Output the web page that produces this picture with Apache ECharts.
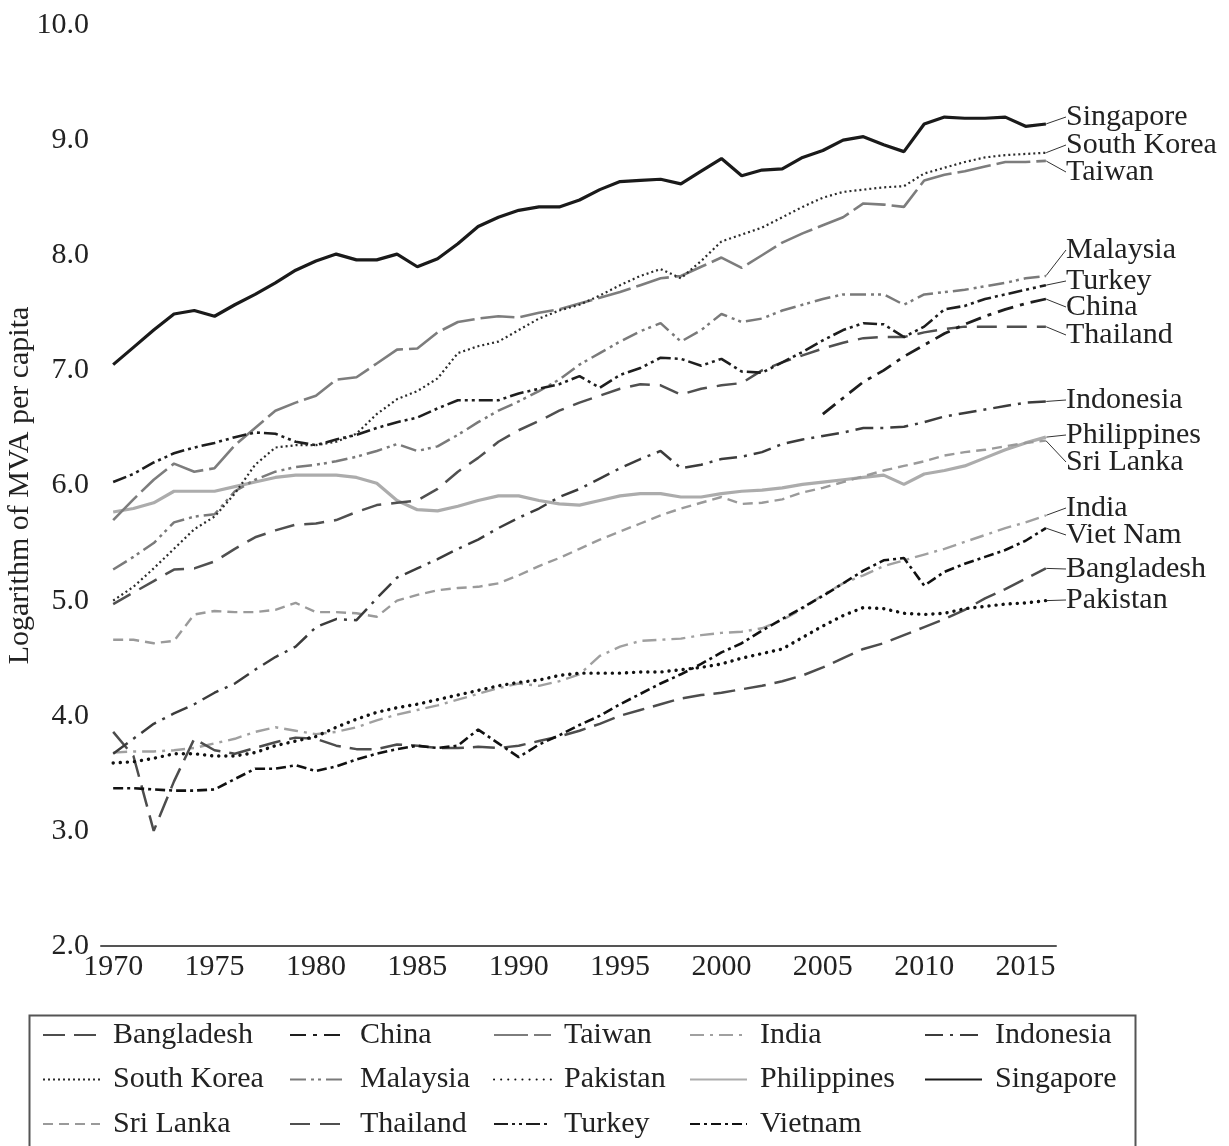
<!DOCTYPE html>
<html>
<head>
<meta charset="utf-8">
<script src="https://cdn.jsdelivr.net/npm/echarts@6/dist/echarts.min.js"></script>
<style>
  html, body { margin: 0; background: #fff; }
  #container { width: 1229px; height: 1146px; }
</style>
</head>
<body>
<div id="container"></div>
<script>
const years = [
  1970, 1971, 1972, 1973, 1974, 1975, 1976, 1977, 1978, 1979,
  1980, 1981, 1982, 1983, 1984, 1985, 1986, 1987, 1988, 1989,
  1990, 1991, 1992, 1993, 1994, 1995, 1996, 1997, 1998, 1999,
  2000, 2001, 2002, 2003, 2004, 2005, 2006, 2007, 2008, 2009,
  2010, 2011, 2012, 2013, 2014, 2015, 2016
]
const chinaYears = [2005, 2006, 2007, 2008, 2009, 2010, 2011, 2012, 2013, 2014, 2015, 2016]
const xTicks = [1970, 1975, 1980, 1985, 1990, 1995, 2000, 2005, 2010, 2015]

const singapore = [
  7.05, 7.2, 7.35, 7.49, 7.52, 7.47, 7.57, 7.66, 7.76, 7.87,
  7.95, 8.01, 7.96, 7.96, 8.01, 7.9, 7.97, 8.1, 8.25, 8.33,
  8.39, 8.42, 8.42, 8.48, 8.57, 8.64, 8.65, 8.66, 8.62, 8.73,
  8.84, 8.69, 8.74, 8.75, 8.85, 8.91, 9.0, 9.03, 8.96, 8.9,
  9.14, 9.2, 9.19, 9.19, 9.2, 9.12, 9.14
]
const southKorea = [
  5.0, 5.12, 5.28, 5.45, 5.62, 5.73, 5.93, 6.18, 6.33, 6.35,
  6.35, 6.38, 6.45, 6.62, 6.75, 6.82, 6.93, 7.15, 7.21, 7.25,
  7.35, 7.45, 7.52, 7.57, 7.65, 7.74, 7.82, 7.88, 7.8, 7.95,
  8.12, 8.18, 8.24, 8.33, 8.42, 8.5, 8.55, 8.57, 8.59, 8.6,
  8.71, 8.76, 8.81, 8.85, 8.87, 8.88, 8.89
]
const taiwan = [
  5.7, 5.88, 6.05, 6.19, 6.12, 6.15, 6.35, 6.5, 6.65, 6.72,
  6.78, 6.92, 6.94, 7.06, 7.18, 7.19, 7.33, 7.42, 7.45, 7.47,
  7.46, 7.5, 7.53, 7.58, 7.63, 7.68, 7.74, 7.8, 7.82, 7.9,
  7.98, 7.89, 8.0, 8.11, 8.19, 8.26, 8.33, 8.45, 8.44, 8.42,
  8.65, 8.7, 8.73, 8.77, 8.81, 8.81, 8.82
]
const malaysia = [
  5.27, 5.38, 5.5, 5.68, 5.73, 5.75, 5.95, 6.05, 6.12, 6.16,
  6.18, 6.21, 6.25, 6.3, 6.36, 6.3, 6.34, 6.44, 6.55, 6.65,
  6.73, 6.82, 6.92, 7.05, 7.15, 7.25, 7.34, 7.41, 7.25, 7.35,
  7.49, 7.42, 7.45, 7.52, 7.57, 7.62, 7.66, 7.66, 7.66, 7.57,
  7.66, 7.68, 7.7, 7.73, 7.76, 7.8, 7.82
]
const turkey = [
  6.03, 6.1, 6.2, 6.28, 6.33, 6.37, 6.42, 6.46, 6.45, 6.38,
  6.35, 6.4, 6.44, 6.5, 6.55, 6.59, 6.67, 6.74, 6.74, 6.74,
  6.8, 6.84, 6.88, 6.95, 6.85, 6.96, 7.02, 7.11, 7.1, 7.04,
  7.1, 6.99, 6.98, 7.07, 7.16, 7.26, 7.35, 7.41, 7.4, 7.29,
  7.38, 7.53, 7.56, 7.62, 7.66, 7.7, 7.74
]
const china = [6.62, 6.76, 6.9, 7.0, 7.12, 7.22, 7.32, 7.4, 7.47, 7.53, 7.58, 7.62]
const thailand = [
  4.97, 5.07, 5.17, 5.27, 5.28, 5.34, 5.45, 5.55, 5.61, 5.66,
  5.67, 5.7, 5.77, 5.83, 5.85, 5.87, 5.97, 6.12, 6.24, 6.38,
  6.48, 6.56, 6.65, 6.72, 6.78, 6.84, 6.88, 6.87, 6.79, 6.84,
  6.87, 6.89, 7.0, 7.07, 7.13, 7.19, 7.24, 7.28, 7.29, 7.29,
  7.33, 7.36, 7.38, 7.38, 7.38, 7.38, 7.38
]
const indonesia = [
  3.67, 3.8, 3.93, 4.02, 4.1, 4.2, 4.28, 4.4, 4.51, 4.6,
  4.77, 4.84, 4.83, 5.02, 5.2, 5.28, 5.36, 5.45, 5.53, 5.63,
  5.72, 5.8, 5.9, 5.97, 6.06, 6.15, 6.23, 6.3, 6.15, 6.18,
  6.23, 6.25, 6.29, 6.36, 6.4, 6.43, 6.46, 6.5, 6.5, 6.51,
  6.55, 6.6, 6.63, 6.66, 6.69, 6.72, 6.73
]
const philippines = [
  5.77, 5.8, 5.85, 5.95, 5.95, 5.95, 5.99, 6.03, 6.07, 6.09,
  6.09, 6.09, 6.07, 6.02, 5.87, 5.79, 5.78, 5.82, 5.87, 5.91,
  5.91, 5.87, 5.84, 5.83, 5.87, 5.91, 5.93, 5.93, 5.9, 5.9,
  5.93, 5.95, 5.96, 5.98, 6.01, 6.03, 6.05, 6.07, 6.09, 6.01,
  6.1, 6.13, 6.17, 6.24, 6.31, 6.37, 6.42
]
const sriLanka = [
  4.66, 4.66, 4.63, 4.65, 4.88, 4.91, 4.9, 4.9, 4.92, 4.98,
  4.9, 4.9, 4.89, 4.86, 5.0, 5.05, 5.09, 5.11, 5.12, 5.15,
  5.22, 5.3, 5.37, 5.45, 5.53, 5.6, 5.67, 5.74, 5.8, 5.85,
  5.9, 5.84, 5.85, 5.88, 5.94, 5.98, 6.03, 6.08, 6.13, 6.17,
  6.21, 6.26, 6.29, 6.31, 6.34, 6.37, 6.39
]
const india = [
  3.68, 3.69, 3.69, 3.7, 3.72, 3.76, 3.8, 3.86, 3.9, 3.87,
  3.84, 3.86, 3.9, 3.96, 4.01, 4.05, 4.09, 4.14, 4.19, 4.24,
  4.28, 4.26, 4.3, 4.36, 4.52, 4.6, 4.65, 4.66, 4.67, 4.7,
  4.72, 4.73, 4.76, 4.83, 4.93, 5.05, 5.15, 5.22, 5.3, 5.35,
  5.4, 5.45, 5.51, 5.57, 5.63, 5.68, 5.74
]
const bangladesh = [
  3.86, 3.65, 3.0, 3.43, 3.8, 3.7, 3.67, 3.72, 3.77, 3.81,
  3.8, 3.74, 3.71, 3.71, 3.75, 3.74, 3.72, 3.72, 3.73, 3.72,
  3.74, 3.78, 3.82, 3.87, 3.93, 4.0, 4.05, 4.1, 4.15, 4.18,
  4.2, 4.23, 4.26, 4.3, 4.35, 4.42, 4.5, 4.58, 4.63, 4.7,
  4.77, 4.84, 4.92, 5.02, 5.1, 5.19, 5.28
]
const pakistan = [
  3.59, 3.6, 3.63, 3.67, 3.67, 3.65, 3.65, 3.68, 3.74, 3.78,
  3.82, 3.9, 3.97, 4.03, 4.07, 4.1, 4.14, 4.18, 4.22, 4.26,
  4.29, 4.31, 4.35, 4.37, 4.37, 4.37, 4.38, 4.38, 4.4, 4.42,
  4.45, 4.5, 4.54, 4.58, 4.68, 4.78, 4.87, 4.94, 4.93, 4.89,
  4.88, 4.89, 4.93, 4.95, 4.97, 4.98, 5.0
]
const vietnam = [
  3.37, 3.37, 3.36, 3.35, 3.35, 3.36, 3.45, 3.54, 3.54, 3.57,
  3.52, 3.56, 3.62, 3.67, 3.71, 3.74, 3.72, 3.74, 3.88, 3.76,
  3.64, 3.75, 3.83, 3.92, 4.0, 4.1, 4.19, 4.28, 4.36, 4.45,
  4.55, 4.63, 4.74, 4.84, 4.94, 5.04, 5.15, 5.26, 5.35, 5.37,
  5.13, 5.25, 5.32, 5.38, 5.44, 5.52, 5.63
]

// drawing order: light lines first, dark ones on top
const countries = [
  ['Philippines', years, philippines],
  ['Sri Lanka', years, sriLanka],
  ['India', years, india],
  ['Taiwan', years, taiwan],
  ['Malaysia', years, malaysia],
  ['Thailand', years, thailand],
  ['Bangladesh', years, bangladesh],
  ['Indonesia', years, indonesia],
  ['China', chinaYears, china],
  ['Turkey', years, turkey],
  ['Vietnam', years, vietnam],
  ['Pakistan', years, pakistan],
  ['South Korea', years, southKorea],
  ['Singapore', years, singapore]
]

const endNames = { Vietnam: 'Viet Nam' }

const legendCols = [
  ['Bangladesh', 'South Korea', 'Sri Lanka'],
  ['China', 'Malaysia', 'Thailand'],
  ['Taiwan', 'Pakistan', 'Turkey'],
  ['India', 'Philippines', 'Vietnam'],
  ['Indonesia', 'Singapore']
]
const legendLeft = [37, 284, 488, 684, 919]

const lineStyles = {
  Bangladesh: { color: '#4d4d4d', width: 2.5, type: [22, 9] },
  China: { color: '#1e1e1e', width: 2.8, type: [16, 7, 4, 7] },
  Taiwan: { color: '#7d7d7d', width: 2.6, type: [34, 6] },
  India: { color: '#a0a0a0', width: 2.4, type: [14, 6, 3, 6] },
  Indonesia: { color: '#3c3c3c', width: 2.5, type: [18, 7, 3, 7] },
  'South Korea': { color: '#2b2b2b', width: 2.2, type: [2, 3] },
  Malaysia: { color: '#7a7a7a', width: 2.5, type: [16, 5, 3, 4, 3, 5] },
  Pakistan: { color: '#111111', width: 3.4, type: [0.1, 7], cap: 'round' },
  Philippines: { color: '#acacac', width: 3.2, type: 'solid' },
  Singapore: { color: '#1a1a1a', width: 3.2, type: 'solid' },
  'Sri Lanka': { color: '#9a9a9a', width: 2.4, type: [10, 6] },
  Thailand: { color: '#505050', width: 2.5, type: [20, 10] },
  Turkey: { color: '#1e1e1e', width: 2.6, type: [14, 4, 3, 4, 3, 4] },
  Vietnam: { color: '#111111', width: 2.6, type: [10, 4, 3, 4] }
}

// pixel centre of each right-hand label
const labelY = {
  Singapore: 117, 'South Korea': 145, Taiwan: 172,
  Malaysia: 250, Turkey: 281, China: 307, Thailand: 335,
  Indonesia: 400, Philippines: 435, 'Sri Lanka': 462,
  India: 508, Vietnam: 535, Bangladesh: 569, Pakistan: 600
}

const font = 'Liberation Serif'
const fontSize = 30
const textColor = '#222'

const makeData = (xs, values) => values.map((v, i) => (
  i === values.length - 1
    ? { value: [xs[i], v], symbol: 'circle', symbolSize: 1, label: { show: true } }
    : [xs[i], v]
))

const series = countries.map(([name, xs, values], i) => ({
  name,
  type: 'line',
  data: makeData(xs, values),
  symbol: 'none',
  showSymbol: true,
  silent: true,
  z: 2 + i,
  lineStyle: lineStyles[name],
  itemStyle: { color: lineStyles[name].color },
  label: {
    show: false,
    formatter: endNames[name] || name,
    fontFamily: font,
    fontSize,
    color: textColor
  },
  labelLine: { show: true, lineStyle: { color: '#333', width: 1 } },
  labelLayout: { x: 1066, y: labelY[name], align: 'left', verticalAlign: 'middle' }
}))

const chart = echarts.init(document.getElementById('container'))

chart.setOption({
  animation: false,
  backgroundColor: '#fff',
  grid: { left: 101, right: 173, top: 25, bottom: 200, outerBoundsMode: 'none' },
  xAxis: {
    type: 'value',
    min: 1969.4,
    max: 2016.5,
    axisLine: { show: true, lineStyle: { color: '#555', width: 2 } },
    axisTick: { show: false },
    splitLine: { show: false },
    axisLabel: {
      customValues: xTicks,
      margin: 6,
      fontFamily: font,
      fontSize,
      color: textColor,
      formatter: v => String(v)
    }
  },
  yAxis: {
    type: 'value',
    min: 2,
    max: 10,
    interval: 1,
    name: 'Logarithm of MVA per capita',
    nameLocation: 'middle',
    nameGap: 66,
    nameMoveOverlap: false,
    nameTextStyle: { fontFamily: font, fontSize, color: textColor },
    axisLine: { show: false },
    axisTick: { show: false },
    splitLine: { show: false },
    axisLabel: {
      margin: 12,
      fontFamily: font,
      fontSize,
      color: textColor,
      formatter: v => v.toFixed(1)
    }
  },
  legend: legendCols.map((col, i) => ({
    data: col,
    orient: 'vertical',
    left: legendLeft[i],
    top: 1015,
    itemWidth: 57,
    itemHeight: 14,
    itemGap: 14.5,
    selectedMode: false,
    itemStyle: { opacity: 0 },
    textStyle: {
      fontFamily: font,
      fontSize,
      color: textColor,
      padding: [0, 0, 0, 8]
    }
  })),
  graphic: [{
    type: 'rect',
    left: 27,
    top: 1013,
    shape: { width: 1106, height: 200 },
    style: { fill: 'none', stroke: '#555', lineWidth: 2 },
    silent: true
  }],
  series
})
</script>
</body>
</html>
